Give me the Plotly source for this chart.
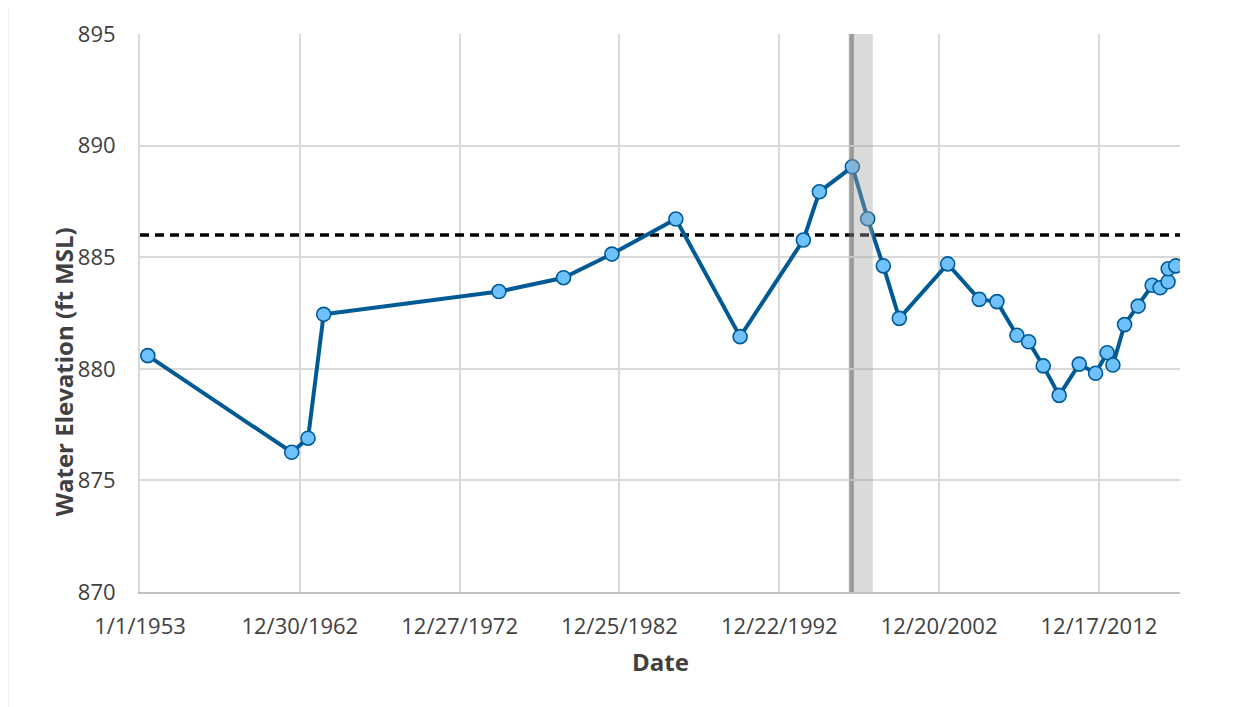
import plotly.graph_objects as go

dates = ["1953-06-28", "1962-06-28", "1963-07-06", "1964-06-27", "1975-06-13",
         "1979-06-27", "1982-07-05", "1986-07-05", "1990-07-12", "1994-06-25",
         "1995-06-26", "1997-07-18", "1998-07-04", "1999-06-25", "2000-06-24",
         "2003-07-04", "2005-06-24", "2006-08-02", "2007-11-02", "2008-07-26",
         "2009-06-24", "2010-06-24", "2011-09-24", "2012-10-02", "2013-06-24",
         "2013-11-01", "2014-07-26", "2015-06-01", "2016-04-16", "2016-10-15",
         "2017-04-14", "2017-04-18", "2017-10-08"]
elev = [880.59, 876.26, 876.89, 882.44, 883.46,
        884.08, 885.14, 886.71, 881.44, 885.77,
        887.93, 889.05, 886.72, 884.61, 882.26,
        884.70, 883.11, 883.01, 881.50, 881.21,
        880.13, 878.81, 880.21, 879.80, 880.72,
        880.17, 881.98, 882.81, 883.74, 883.63,
        883.90, 884.48, 884.61]

reference_level = 886.0
marker_date = "1997-07-01"
band_start = "1997-04-23"
band_end = "1998-10-28"

tick_dates = ["1953-01-01", "1962-12-30", "1972-12-27", "1982-12-25",
              "1992-12-22", "2002-12-20", "2012-12-17"]
tick_labels = ["1/1/1953", "12/30/1962", "12/27/1972", "12/25/1982",
               "12/22/1992", "12/20/2002", "12/17/2012"]
y_ticks = [870, 875, 880, 885, 890, 895]

x_range = ["1953-01-01", "2018-01-12"]

FONT = "Open Sans"
TXT = "#404040"
GRID = "#d9d9d9"

fig = go.Figure()

fig.add_trace(go.Scatter(
    x=x_range, y=[reference_level, reference_level], mode="lines",
    line=dict(color="black", width=3.5, dash="9px,6px"),
    hoverinfo="skip", showlegend=False))

fig.add_trace(go.Scatter(
    x=dates, y=elev, mode="lines+markers",
    line=dict(color="#005a96", width=4),
    marker=dict(size=14, color="#6ec1fb", line=dict(color="#005a96", width=1.6)),
    showlegend=False))

# vertical line (between grid and traces) and translucent band (above)
fig.add_shape(type="line", xref="x", yref="paper", x0=marker_date, x1=marker_date,
              y0=0, y1=1, line=dict(color="#959595", width=4.5),
              layer="between")
fig.add_shape(type="rect", xref="x", yref="paper", x0=band_start, x1=band_end,
              y0=0, y1=1, fillcolor="rgba(162,162,162,0.4)", line_width=0,
              layer="above")

# outer chart border (left & top)
fig.add_shape(type="line", xref="paper", yref="paper", x0=-0.1273, x1=-0.1273,
              y0=-0.3, y1=1.052, line=dict(color=GRID, width=1.5))
fig.add_shape(type="line", xref="paper", yref="paper", x0=-0.1273, x1=1.2,
              y0=1.052, y1=1.052, line=dict(color=GRID, width=1.5))

fig.add_annotation(text="<b>Water Elevation (ft MSL)</b>", xref="paper", yref="paper",
                   x=-0.0918, y=0.394, textangle=-90, showarrow=False,
                   font=dict(family=FONT, size=24, color=TXT))
fig.add_annotation(text="<b>Date</b>", xref="paper", yref="paper",
                   x=0.5, y=-0.1254, showarrow=False,
                   font=dict(family=FONT, size=24, color=TXT), yanchor="middle")

fig.update_layout(
    width=1253, height=707,
    margin=dict(l=131.5, r=81, t=26, b=123, autoexpand=False),
    paper_bgcolor="white", plot_bgcolor="white",
    font=dict(family=FONT, size=22, color=TXT),
    xaxis=dict(type="date", range=x_range, tickmode="array",
               tickvals=tick_dates, ticktext=tick_labels,
               showgrid=True, gridcolor=GRID, gridwidth=2,
               showline=True, linecolor="#bfbfbf", linewidth=2,
               zeroline=False, ticks="", ticklabelstandoff=14,
               tickfont=dict(family=FONT, size=22, color=TXT)),
    yaxis=dict(range=[870, 895], tickmode="array", tickvals=y_ticks,
               showgrid=True, gridcolor=GRID, gridwidth=2,
               showline=True, linecolor=GRID, linewidth=2,
               zeroline=False, ticks="", ticklabelstandoff=18,
               tickfont=dict(family=FONT, size=22, color=TXT)),
)

fig.write_html("out.html")
